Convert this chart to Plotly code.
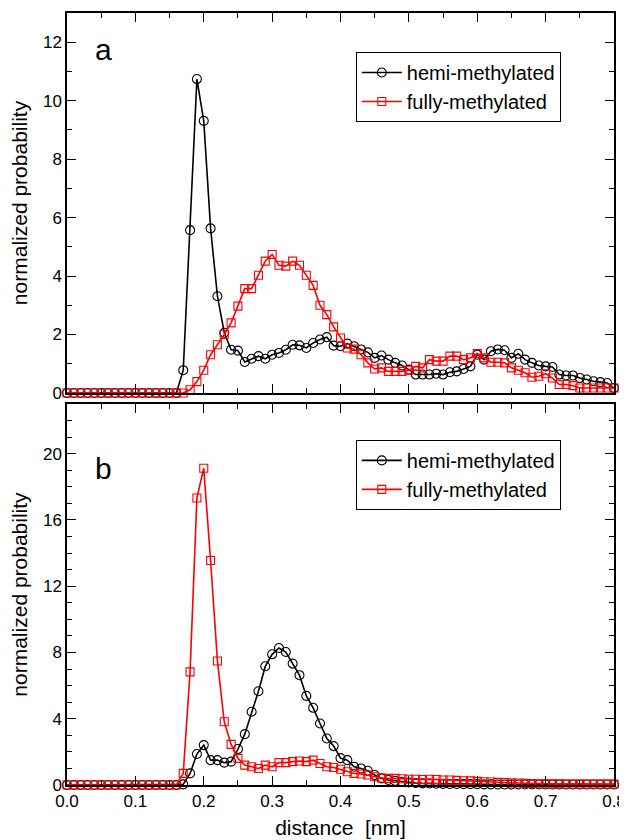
import plotly.graph_objects as go

distance = [round(i * 0.01, 2) for i in range(81)]

# Panel a
a_hemi = [0]*17 + [0.78, 5.57, 10.74, 9.31, 5.63, 3.31, 2.06, 1.48, 1.45, 1.06,
                   1.17, 1.26, 1.17, 1.31, 1.37, 1.48, 1.65, 1.63, 1.54, 1.71,
                   1.83, 1.91, 1.62, 1.6, 1.69, 1.6, 1.49, 1.39, 1.2, 1.28,
                   1.14, 1.03, 0.94, 0.8, 0.63, 0.63, 0.63, 0.66, 0.63, 0.71,
                   0.74, 0.82, 0.91, 1.31, 1.14, 1.43, 1.49, 1.46, 1.2, 1.34,
                   1.14, 1.03, 0.94, 0.91, 0.89, 0.63, 0.6, 0.6, 0.51, 0.46,
                   0.4, 0.37, 0.34, 0.17]
a_fully = [0]*18 + [0.11, 0.39, 0.78, 1.31, 1.65, 2.0, 2.4, 2.97, 3.57, 3.57,
                    4.03, 4.51, 4.74, 4.37, 4.34, 4.51, 4.37, 4.03, 3.68, 3.0,
                    2.68, 2.26, 1.88, 1.54, 1.5, 1.31, 1.03, 0.82, 0.86, 0.74,
                    0.74, 0.74, 0.78, 0.91, 0.86, 1.14, 1.09, 1.09, 1.26, 1.26,
                    1.14, 1.2, 1.35, 1.2, 1.05, 1.05, 1.03, 0.86, 0.78, 0.69,
                    0.54, 0.57, 0.66, 0.51, 0.29, 0.29, 0.25, 0.17, 0.17, 0.17,
                    0.17, 0.17, 0.17]

# Panel b
b_hemi = [0]*17 + [0.04, 0.7, 1.87, 2.41, 1.5, 1.5, 1.35, 1.41, 2.17, 3.07,
                   4.42, 5.66, 7.17, 7.89, 8.27, 8.03, 7.33, 6.63, 5.38, 4.66,
                   3.71, 2.81, 2.35, 1.62, 1.5, 1.1, 1.0, 0.86, 0.6, 0.4,
                   0.3, 0.25, 0.2, 0.15, 0.12, 0.1, 0.09, 0.08, 0.07, 0.06,
                   0.06, 0.05, 0.05, 0.05, 0.04, 0.04, 0.03, 0.03, 0.03, 0.03,
                   0.03, 0.03, 0.03, 0.03, 0.03, 0.03, 0.03, 0.03, 0.03, 0.03,
                   0.03, 0.03, 0.03, 0.03]
b_fully = [0]*17 + [0.7, 6.83, 17.33, 19.12, 13.55, 7.49, 3.82, 2.45, 1.61, 1.2,
                    1.1, 1.0, 1.2, 1.1, 1.35, 1.35, 1.41, 1.45, 1.41, 1.5,
                    1.3, 1.1, 1.06, 0.95, 0.8, 0.7, 0.66, 0.6, 0.5, 0.42,
                    0.4, 0.4, 0.38, 0.35, 0.35, 0.33, 0.35, 0.33, 0.3, 0.3,
                    0.28, 0.26, 0.25, 0.22, 0.2, 0.18, 0.16, 0.15, 0.13, 0.12,
                    0.1, 0.09, 0.08, 0.08, 0.07, 0.07, 0.06, 0.06, 0.05, 0.05,
                    0.05, 0.05, 0.05, 0.05]

series_names = ["hemi-methylated", "fully-methylated"]
panel_labels = ["a", "b"]
x_ticks = [0.0, 0.1, 0.2, 0.3, 0.4, 0.5, 0.6, 0.7, 0.8]

FONT = "Liberation Sans, Arial, Helvetica, sans-serif"

fig = go.Figure()

def add_pair(hemi, fully, xa, ya, legend):
    fig.add_trace(go.Scatter(
        x=distance, y=hemi, mode="lines+markers", name=series_names[0],
        line=dict(color="black", width=1.6),
        marker=dict(symbol="circle-open", size=9, color="black", line=dict(width=1.1)),
        xaxis=xa, yaxis=ya, legend=legend, cliponaxis=False))
    fig.add_trace(go.Scatter(
        x=distance, y=fully, mode="lines+markers", name=series_names[1],
        line=dict(color="#ff0000", width=1.6),
        marker=dict(symbol="square-open", size=8, color="#ff0000", line=dict(width=1.1)),
        xaxis=xa, yaxis=ya, legend=legend, cliponaxis=False))

add_pair(a_hemi, a_fully, "x", "y", "legend")
add_pair(b_hemi, b_fully, "x2", "y2", "legend2")

common_axis = dict(
    showline=True, linecolor="black", linewidth=1.5, mirror="allticks",
    ticks="inside", ticklen=9, tickwidth=1.2, tickcolor="black",
    showgrid=False, zeroline=False, automargin=False,
    tickfont=dict(family=FONT, size=17, color="black"),
)

xaxis_common = dict(common_axis, range=[0, 0.8], tickvals=x_ticks, tickformat=".1f",
                    minor=dict(dtick=0.05, tick0=0, ticklen=5, tickwidth=1.2,
                               tickcolor="black", ticks="inside"))

ytitle = dict(text="normalized probability", font=dict(family=FONT, size=21), standoff=11)

# margins compensate for the 8px default body margin of the html page
fig.update_layout(
    width=627, height=840,
    margin=dict(l=59, r=21, t=5, b=63),
    paper_bgcolor="white", plot_bgcolor="white",
    font=dict(family=FONT, color="black"),
    xaxis=dict(xaxis_common, domain=[0, 1], anchor="y", showticklabels=False, matches="x2"),
    yaxis=dict(common_axis, domain=[0.5078, 1], anchor="x", range=[0, 13],
               tickvals=[0, 2, 4, 6, 8, 10, 12],
               minor=dict(dtick=1, tick0=0, ticklen=5, tickwidth=1.2, tickcolor="black", ticks="inside"),
               title=ytitle),
    xaxis2=dict(xaxis_common, domain=[0, 1], anchor="y2",
                title=dict(text="distance\u00a0 [nm]", font=dict(family=FONT, size=21), standoff=10)),
    yaxis2=dict(common_axis, domain=[0, 0.4935], anchor="x2", range=[0, 23],
                tickvals=[0, 4, 8, 12, 16, 20],
                minor=dict(dtick=1, tick0=0, ticklen=5, tickwidth=1.2, tickcolor="black", ticks="inside"),
                title=ytitle),
    legend=dict(x=0.528, y=0.9495, xanchor="left", yanchor="top",
                bordercolor="black", borderwidth=1, bgcolor="white",
                font=dict(family=FONT, size=20, color="black"),
                itemwidth=40, tracegroupgap=2),
    legend2=dict(x=0.528, y=0.447, xanchor="left", yanchor="top",
                 bordercolor="black", borderwidth=1, bgcolor="white",
                 font=dict(family=FONT, size=20, color="black"),
                 itemwidth=40, tracegroupgap=2),
    showlegend=True,
)

fig.add_annotation(text=panel_labels[0], xref="x domain", yref="y domain", x=0.066, y=0.903,
                   xanchor="center", yanchor="middle",
                   showarrow=False, font=dict(family=FONT, size=30, color="black"))
fig.add_annotation(text=panel_labels[1], xref="x2 domain", yref="y2 domain", x=0.066, y=0.832,
                   xanchor="center", yanchor="middle",
                   showarrow=False, font=dict(family=FONT, size=30, color="black"))

fig.write_html("out.html")
